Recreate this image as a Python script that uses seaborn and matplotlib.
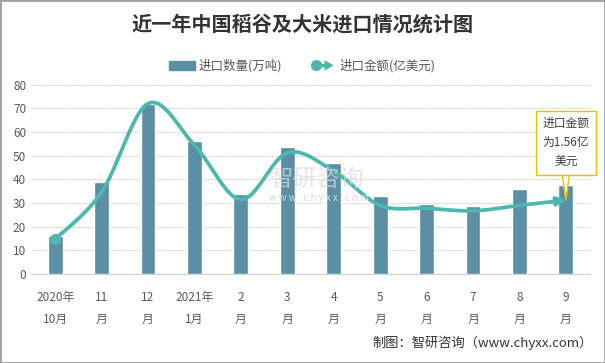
import numpy as np
import pandas as pd
import matplotlib
matplotlib.use("Agg")
import matplotlib.pyplot as plt
import seaborn as sns
from matplotlib.lines import Line2D
from matplotlib.patches import Patch, FancyArrowPatch, Rectangle
from matplotlib.legend_handler import HandlerBase

# data
months = ["2020年\n10月", "11\n月", "12\n月", "2021年\n1月", "2\n月", "3\n月",
          "4\n月", "5\n月", "6\n月", "7\n月", "8\n月", "9\n月"]
qty = [16, 39, 72, 56, 34, 53.5, 47, 33, 29.5, 28.7, 36, 37.5]      # 进口数量(万吨)
amount = [14.7, 34.5, 72, 54.5, 31.5, 51.2, 43.5, 29, 27.8, 26.7, 29, 31.2]  # 进口金额

bar_color = "#5b8fa6"
line_color = "#4db8ad"
gray = "#595959"

sns.set_style("white")
plt.rcParams["font.family"] = ["Noto Sans CJK SC", "DejaVu Sans"]

fig = plt.figure(figsize=(6.05, 3.63), dpi=100)
ax = fig.add_axes([31/605, 1-274/363, (590-31)/605, (274-84.7)/363])

df = pd.DataFrame({"month": months, "qty": qty})
sns.barplot(data=df, x="month", y="qty", color=bar_color, width=0.32,
            saturation=1, ax=ax, zorder=2)


# smooth curve (bezier like excel smoothing)
def smooth(xs, ys, n=30):
    p = np.column_stack([xs, ys]).astype(float)
    p = np.vstack([p[0], p, p[-1]])
    out = []
    for i in range(1, len(p) - 2):
        p0, p1, p2, p3 = p[i-1], p[i], p[i+1], p[i+2]
        c1 = p1 + (p2 - p0) / 6
        c2 = p2 - (p3 - p1) / 6
        t = np.linspace(0, 1, n)[:, None]
        seg = (1-t)**3*p1 + 3*(1-t)**2*t*c1 + 3*(1-t)*t**2*c2 + t**3*p2
        out.append(seg if i == 1 else seg[1:])
    return np.vstack(out)


curve = smooth(np.arange(len(amount)), amount)
sns.lineplot(x=curve[:-4, 0], y=curve[:-4, 1], sort=False, color=line_color,
             lw=2.7, ax=ax, zorder=4)
ax.annotate("", xy=(curve[-1, 0], curve[-1, 1]), xytext=(curve[-6, 0], curve[-6, 1]),
            arrowprops=dict(arrowstyle="-|>,head_length=0.5,head_width=0.25",
                            color=line_color, lw=2.7, shrinkA=0, shrinkB=0), zorder=4)
ax.plot(0, amount[0], "o", color=line_color, ms=7, zorder=5)

ax.set_ylim(0, 80)
ax.set_xlim(-0.52, len(months) - 0.48)
ax.set_yticks(range(0, 81, 10))
ax.set_xlabel("")
ax.set_ylabel("")
ax.grid(axis="y", color="#d5d5d5", lw=0.8, ls=(0, (2, 1)), zorder=0)
for s in ["left", "right", "top"]:
    ax.spines[s].set_visible(False)
ax.spines["bottom"].set_color("#d0d0d0")
ax.tick_params(axis="both", length=0, colors=gray, labelsize=8.5)
ax.tick_params(axis="x", pad=12)
for lab in ax.get_xticklabels():
    lab.set_linespacing(1.95)

# callout
ax.annotate("进口金额\n为1.56亿\n美元", xy=(11, amount[-1]), xytext=(11.0, 55.5),
            ha="center", va="center", fontsize=8.5, color="#404040", linespacing=1.6,
            bbox=dict(boxstyle="square,pad=0.55", fc="white", ec="#f0c000", lw=1),
            arrowprops=dict(arrowstyle="wedge,tail_width=0.6", fc="white",
                            ec="#f0c000", lw=1, shrinkA=0, shrinkB=0),
            zorder=6, annotation_clip=False)

# watermark
fig.text(0.445, 1-180/363, "智研咨询", fontsize=17, color="#dadada", alpha=0.7,
         ha="left", va="center", zorder=0)
fig.text(0.445, 1-198/363, "w w w . c h y x x . c o m", fontsize=7, color="#d5d5d5",
         ha="left", va="center")

fig.text(0.5, 1-24/363, "近一年中国稻谷及大米进口情况统计图", ha="center", va="center",
         fontsize=14.5, fontweight="bold", color="#333333")


class ArrowLineHandler(HandlerBase):
    def create_artists(self, legend, orig, xd, yd, width, height, fontsize, trans):
        y = height / 2 - yd
        x0, x1 = -xd, width - xd
        ln = Line2D([x0 + 3, x1 - 5], [y, y], color=line_color, lw=2.5, transform=trans)
        dot = Line2D([x0 + 4], [y], marker="o", ms=7, color=line_color, transform=trans)
        arr = FancyArrowPatch((x1 - 8, y), (x1, y), arrowstyle="-|>,head_length=5,head_width=3",
                              color=line_color, lw=1, transform=trans)
        return [ln, dot, arr]


handles = [Patch(color=bar_color), Line2D([], [])]
fig.legend(handles, ["进口数量(万吨)", "进口金额(亿美元)"], loc="center",
           bbox_to_anchor=(0.5, 1-66/363), ncol=2, frameon=False, fontsize=9,
           labelcolor=gray, handlelength=2.1, handleheight=0.8, columnspacing=2.2,
           handletextpad=0.3, handler_map={Line2D: ArrowLineHandler()})

fig.text(0.98, 1-343/363, "制图：智研咨询（www.chyxx.com）", ha="right", va="center",
         fontsize=9.5, color="#333333")

fig.patches.append(Rectangle((0, 0), 1, 1, transform=fig.transFigure, fill=False,
                             ec="#a0a0a0", lw=2))

fig.savefig("out.png", dpi=100)
